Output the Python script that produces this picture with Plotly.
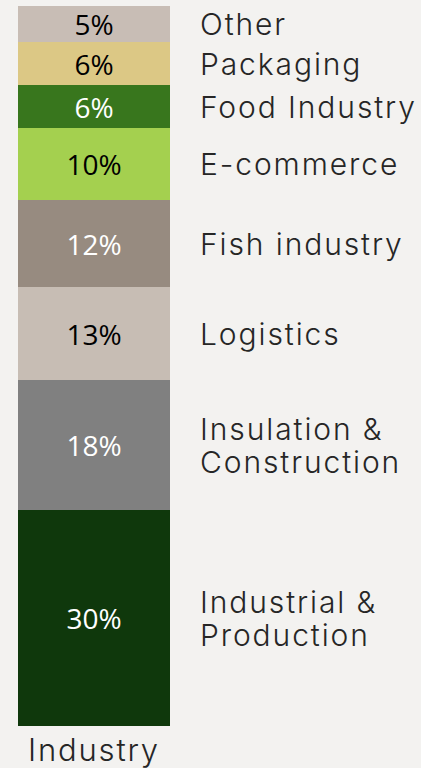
import plotly.graph_objects as go

categories = ["Industrial &<br>Production", "Insulation &<br>Construction", "Logistics",
              "Fish industry", "E-commerce", "Food Industry", "Packaging", "Other"]
values = [30, 18, 13, 12, 10, 6, 6, 5]
colors = ["#0f380c", "#808080", "#c7bdb4", "#978b80", "#a4d04f", "#38761d", "#dcc885", "#c8bdb5"]
text_colors = ["white", "white", "black", "white", "black", "white", "black", "black"]
group = ["Industry"]

LABEL_FONT = "Inter"
LINE_GAP = 33

fig = go.Figure()
for cat, v, c, tc in zip(categories, values, colors, text_colors):
    fig.add_trace(go.Bar(
        x=[0], y=[v], width=1, name=cat.replace("<br>", " "),
        marker=dict(color=c, line=dict(width=0)),
        text=[f"{v}%"], textposition="inside", insidetextanchor="middle",
        textfont=dict(family="Open Sans", size=28, color=tc),
        constraintext="none", showlegend=False,
    ))

def spaced(s, ls):
    return f'<span style="letter-spacing:{ls}px">{s}</span>'

cum = 0
for cat, v in zip(categories, values):
    lines = cat.split("<br>")
    n = len(lines)
    for i, line in enumerate(lines):
        fig.add_annotation(x=0.685, y=cum + v / 2, xref="x", yref="y", text=spaced(line, 1.9),
                           yshift=((n - 1) / 2 - i) * LINE_GAP,
                           showarrow=False, xanchor="left", yanchor="middle", align="left",
                           font=dict(family=LABEL_FONT, size=30, color="#262626", weight=300))
    cum += v

fig.update_layout(
    barmode="stack", width=421, height=768,
    margin=dict(l=18, r=0, t=6, b=40),
    paper_bgcolor="#f3f2f0", plot_bgcolor="#f3f2f0",
    xaxis=dict(range=[-0.5, 2.151], tickvals=[0], ticktext=[spaced(g, 1.8) for g in group],
               showgrid=False, zeroline=False, showline=False, ticks="",
               ticklabelstandoff=3,
               tickfont=dict(family=LABEL_FONT, size=31, color="#262626", weight=300)),
    yaxis=dict(range=[0, 100], visible=False),
    uniformtext=dict(mode=False),
)
fig.write_html("out.html")
